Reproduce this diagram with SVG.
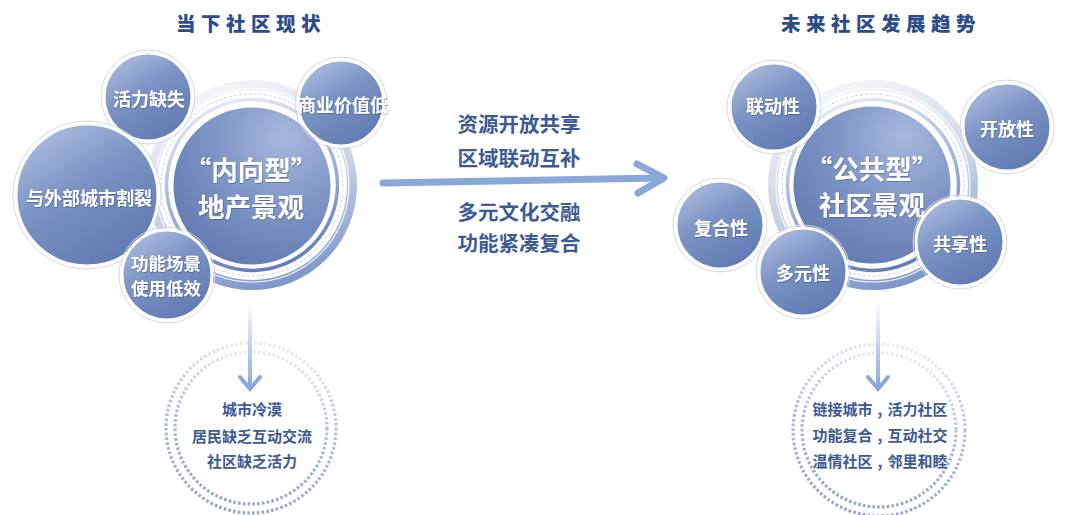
<svg xmlns="http://www.w3.org/2000/svg" width="1080" height="515" viewBox="0 0 1080 515">
<defs>
  <linearGradient id="ballGrad" x1="0.15" y1="0" x2="0.75" y2="1">
    <stop offset="0" stop-color="#b0c0e0"/>
    <stop offset="0.45" stop-color="#7a92c3"/>
    <stop offset="1" stop-color="#5f7ab2"/>
  </linearGradient>
  <radialGradient id="coreGrad" cx="0.7" cy="0.2" r="0.9">
    <stop offset="0" stop-color="#a6b8dc"/>
    <stop offset="0.5" stop-color="#7d94c4"/>
    <stop offset="1" stop-color="#6079b0"/>
  </radialGradient>
  <linearGradient id="ringGrad" x1="0.35" y1="0" x2="0.65" y2="1">
    <stop offset="0" stop-color="#f2f4f8"/>
    <stop offset="0.5" stop-color="#cbd5e8"/>
    <stop offset="1" stop-color="#7d97cb"/>
  </linearGradient>
  <linearGradient id="ringGrad2" x1="0.35" y1="0" x2="0.65" y2="1">
    <stop offset="0" stop-color="#e4e9f3"/>
    <stop offset="0.5" stop-color="#9fb2d8"/>
    <stop offset="1" stop-color="#5f7cb8"/>
  </linearGradient>
  <linearGradient id="dotGrad" x1="0.6" y1="0" x2="0.4" y2="1">
    <stop offset="0" stop-color="#e6ebf5"/>
    <stop offset="0.5" stop-color="#a9bade"/>
    <stop offset="1" stop-color="#8ea4d2"/>
  </linearGradient>
  <linearGradient id="vGrad" x1="0" y1="0" x2="0" y2="1">
    <stop offset="0" stop-color="#ffffff"/>
    <stop offset="1" stop-color="#8aa8dd"/>
  </linearGradient>
  <filter id="tsh" x="-10%" y="-30%" width="120%" height="160%">
    <feDropShadow dx="0.6" dy="0.8" stdDeviation="0.6" flood-color="#1c2f5a" flood-opacity="0.45"/>
  </filter>
</defs>
<style>
  text { font-family: "Noto Sans CJK SC", "Noto Sans", sans-serif; font-weight: bold; text-anchor: middle; dominant-baseline: central; }
  .title { font-size: 19.5px; fill: #2d4c8c; letter-spacing: 5.5px; font-weight: 900; }
  .mid { font-size: 20.5px; fill: #3c5a97; }
  .low { font-size: 15px; fill: #3b5994; }
  .ball { fill: url(#ballGrad); stroke: #ffffff; stroke-width: 3; }
  .halo { fill: none; stroke: #d3d9e4; stroke-width: 1; }
  .wt { fill: #ffffff; font-size: 18px; filter: url(#tsh); }
  .wt2 { fill: #ffffff; font-size: 17.5px; filter: url(#tsh); }
  .core { fill: #ffffff; font-size: 26.5px; filter: url(#tsh); }
  .ring1 { fill: none; stroke: url(#ringGrad); stroke-width: 10; }
  .ringw { fill: none; stroke: #ffffff; stroke-width: 1.2; opacity: 0.9; }
  .ringd { fill: none; stroke: #c9d2e4; stroke-width: 1; stroke-dasharray: 3 2; }
  .ring2 { fill: none; stroke: url(#ringGrad2); stroke-width: 3.5; }
  .coreball { fill: url(#coreGrad); stroke: #ffffff; stroke-width: 3; }
  .dots { fill: none; stroke: url(#dotGrad); stroke-width: 3.2; stroke-dasharray: 2.6 2.2; }
  .arr { fill: none; stroke: #8aa7da; stroke-width: 7; stroke-linecap: round; stroke-linejoin: round; }
  .vhead { fill: none; stroke: #8aa8dd; stroke-width: 4; stroke-linecap: round; stroke-linejoin: miter; }
</style>
<rect width="1080" height="515" fill="#ffffff"/>

<text class="title" x="251" y="22">当下社区现状</text>
<text class="title" x="881" y="22">未来社区发展趋势</text>

<!-- Left cluster -->
<g id="left-core">
  <circle class="ring1" cx="252" cy="185" r="100"/>
  <circle class="ringw" cx="252" cy="185" r="97"/>
  <circle class="ringd" cx="252" cy="185" r="91"/>
  <circle class="ring2" cx="252" cy="185" r="85.5"/>
  <circle class="coreball" cx="252" cy="186" r="80"/>
  <text class="core" x="251" y="168">“内向型”</text>
  <text class="core" x="251" y="205">地产景观</text>
</g>
<g id="node-huoli">
  <circle class="halo" cx="148" cy="97" r="47"/>
  <circle class="ball" cx="148" cy="97" r="44"/>
  <text class="wt" x="149" y="98">活力缺失</text>
</g>
<g id="node-shangye">
  <circle class="halo" cx="341" cy="103" r="46"/>
  <circle class="ball" cx="341" cy="103" r="43"/>
  <text class="wt" x="343" y="104">商业价值低</text>
</g>
<g id="node-geli">
  <circle class="halo" cx="87" cy="195" r="74"/>
  <circle class="ball" cx="87" cy="195" r="71"/>
  <text class="wt" x="89" y="197">与外部城市割裂</text>
</g>
<g id="node-gongneng">
  <circle class="halo" cx="167" cy="275" r="48"/>
  <circle class="ball" cx="167" cy="275" r="45"/>
  <text class="wt2" x="166" y="262">功能场景</text>
  <text class="wt2" x="166" y="287">使用低效</text>
</g>

<!-- Right cluster -->
<g id="right-core">
  <circle class="ring1" cx="873" cy="185" r="100"/>
  <circle class="ringw" cx="873" cy="185" r="97"/>
  <circle class="ringd" cx="873" cy="185" r="91"/>
  <circle class="ring2" cx="873" cy="185" r="85.5"/>
  <circle class="coreball" cx="872" cy="185" r="80"/>
  <text class="core" x="872" y="167">“公共型”</text>
  <text class="core" x="872" y="203">社区景观</text>
</g>
<g id="node-liandong">
  <circle class="halo" cx="774" cy="107" r="47"/>
  <circle class="ball" cx="774" cy="107" r="44"/>
  <text class="wt" x="773" y="105">联动性</text>
</g>
<g id="node-kaifang">
  <circle class="halo" cx="1007" cy="127" r="47"/>
  <circle class="ball" cx="1007" cy="127" r="44"/>
  <text class="wt" x="1007" y="128">开放性</text>
</g>
<g id="node-fuhe">
  <circle class="halo" cx="720" cy="225" r="47"/>
  <circle class="ball" cx="720" cy="225" r="44"/>
  <text class="wt" x="721" y="227">复合性</text>
</g>
<g id="node-duoyuan">
  <circle class="halo" cx="803" cy="272" r="47"/>
  <circle class="ball" cx="803" cy="272" r="44"/>
  <text class="wt" x="803" y="272">多元性</text>
</g>
<g id="node-gongxiang">
  <circle class="halo" cx="960" cy="242" r="47"/>
  <circle class="ball" cx="960" cy="242" r="44"/>
  <text class="wt" x="960" y="243">共享性</text>
</g>

<!-- Middle labels -->
<g id="mid-labels">
  <text class="mid" x="519" y="123">资源开放共享</text>
  <text class="mid" x="519" y="157">区域联动互补</text>
  <text class="mid" x="519" y="211">多元文化交融</text>
  <text class="mid" x="519" y="242">功能紧凑复合</text>
</g>

<!-- Bottom result nodes -->
<g id="result-left">
  <circle class="dots" cx="251" cy="428" r="85"/>
  <circle class="dots" cx="251" cy="428" r="76"/>
  <text class="low" x="252" y="408">城市冷漠</text>
  <text class="low" x="252" y="435">居民缺乏互动交流</text>
  <text class="low" x="252" y="460">社区缺乏活力</text>
</g>
<g id="result-right">
  <circle class="dots" cx="879" cy="430" r="86"/>
  <circle class="dots" cx="879" cy="430" r="77"/>
  <text class="low" x="880" y="408">链接城市<tspan dx="5">,</tspan><tspan dx="5">活力社区</tspan></text>
  <text class="low" x="880" y="434">功能复合<tspan dx="5">,</tspan><tspan dx="5">互动社交</tspan></text>
  <text class="low" x="880" y="460">温情社区<tspan dx="5">,</tspan><tspan dx="5">邻里和睦</tspan></text>
</g>

<!-- Connectors -->
<g id="connectors">
  <line class="arr" x1="383" y1="183" x2="660" y2="178"/>
  <polyline class="arr" points="637,164 664,178 638,193"/>
  <rect x="248" y="300" width="4" height="88" fill="url(#vGrad)"/>
  <polyline class="vhead" points="240,377 250,389 260,377"/>
  <rect x="876" y="300" width="4" height="88" fill="url(#vGrad)"/>
  <polyline class="vhead" points="868,377 878,389 888,377"/>
</g>
</svg>
